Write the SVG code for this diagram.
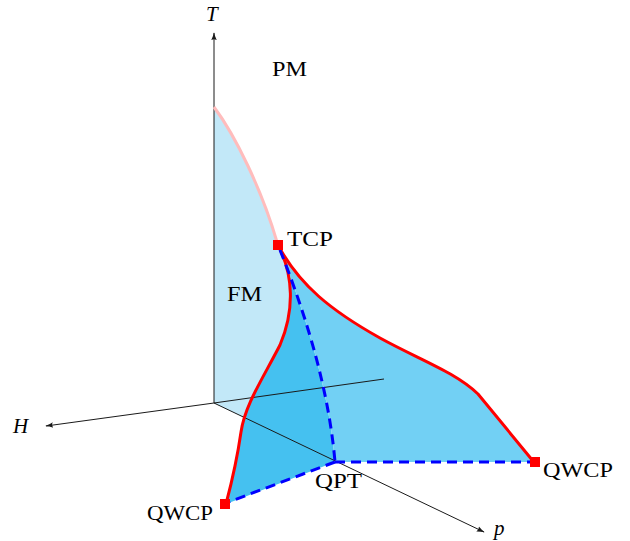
<svg xmlns="http://www.w3.org/2000/svg" width="630" height="541" viewBox="0 0 630 541">
<style>
.axis{stroke:#1a1a1a;stroke-width:1;fill:none}
.red{stroke:#ff0000;stroke-width:3;fill:none;stroke-linejoin:round}
.dash{stroke:#0000ff;stroke-width:3;fill:none;stroke-dasharray:10,6}
.lbl{font-family:"Liberation Serif",serif;font-size:21px;fill:#000}
.it{font-style:italic}
.pt{fill:#ff0000}
</style>
<defs>
<marker id="arr" viewBox="0 0 10 10" refX="9" refY="5" markerWidth="8" markerHeight="8" markerUnits="userSpaceOnUse" orient="auto">
<path d="M0,1.5 Q5,4 10,5 Q5,6 0,8.5 Q2.5,5 0,1.5 Z" fill="#1a1a1a"/>
</marker>
<clipPath id="abovep"><path d="M0,0 L630,0 L630,604 L214,403 L0,403 Z"/></clipPath>
</defs>
<g id="regions">
<path id="fm-region" clip-path="url(#abovep)" d="M214,107 C235,135 262,190 278,246 C293,275 295,310 280,345 C262,380 245,405 241,432 L214,432 Z" fill="#c2e8f8"/>
<path id="left-region" d="M279,247 C293,275 295,310 280,345 C262,380 245,405 241,432 C237,460 231,485 226,504 L335,462 C328,380 300,300 279,247 Z" fill="#45c1f0"/>
<path id="right-region" d="M279,247 C300,300 328,380 335,462 L533,462 L478,394 C455,372 420,360 380,338 C330,310 300,285 279,247 Z" fill="#72d0f4"/>
</g>
<g id="connectors">
<line class="axis" x1="214" y1="403" x2="214" y2="33" marker-end="url(#arr)"/>
<line class="axis" x1="214" y1="403" x2="46" y2="426" marker-end="url(#arr)"/>
<line class="axis" x1="214" y1="403" x2="484" y2="532" marker-end="url(#arr)"/>
<line class="axis" x1="214" y1="403" x2="384" y2="379"/>
<path d="M214,107 C235,135 262,190 277,242" stroke="#ffbcbc" stroke-width="3" fill="none"/>
<path class="red" d="M279,247 C300,285 330,310 380,338 C420,360 455,372 478,394 L533,461"/>
<path class="red" d="M279,247 C293,275 295,310 280,345 C262,380 245,405 241,432 C237,460 231,485 226,504"/>
<path class="dash" d="M280,250 C300,300 328,380 335,462"/>
<path class="dash" d="M335,462 L533,462"/>
<path class="dash" d="M335,462 L226,503"/>
</g>
<g id="TCP"><rect class="pt" x="273" y="240" width="10" height="10"/><text class="lbl" x="287" y="246" textLength="46" lengthAdjust="spacingAndGlyphs">TCP</text></g>
<g id="QWCP-right"><rect class="pt" x="530" y="457" width="10" height="10"/><text class="lbl" x="543" y="477" textLength="70" lengthAdjust="spacingAndGlyphs">QWCP</text></g>
<g id="QWCP-left"><rect class="pt" x="220" y="499" width="10" height="10"/><text class="lbl" x="147" y="520" textLength="66" lengthAdjust="spacingAndGlyphs">QWCP</text></g>
<g id="QPT"><text class="lbl" x="315" y="488" textLength="47" lengthAdjust="spacingAndGlyphs">QPT</text></g>
<g id="PM"><text class="lbl" x="272" y="76" textLength="35" lengthAdjust="spacingAndGlyphs">PM</text></g>
<g id="FM"><text class="lbl" x="227" y="301" textLength="35" lengthAdjust="spacingAndGlyphs">FM</text></g>
<g id="labels">
<text class="lbl it" x="206" y="21">T</text>
<text class="lbl it" x="13" y="433">H</text>
<text class="lbl it" x="494" y="535">p</text>
</g>
</svg>
